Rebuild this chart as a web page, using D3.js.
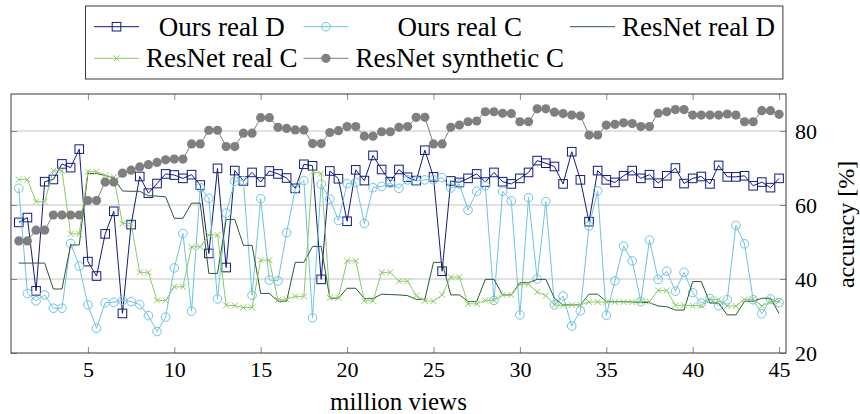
<!DOCTYPE html>
<html>
<head>
<meta charset="utf-8">
<script src="https://cdn.jsdelivr.net/npm/d3@7"></script>
<style>
body { margin: 0; background: #fff; }
</style>
</head>
<body>
<svg id="chart" width="860" height="414" font-family="'Liberation Serif', 'Times New Roman', Times, 'DejaVu Serif', 'Noto Serif', serif"></svg>
<script>
const FONT = "'Liberation Serif', 'Times New Roman', Times, 'DejaVu Serif', 'Noto Serif', serif";

// x positions (million views)
const MILLION_VIEWS = [1, 1.5, 2, 2.5, 3, 3.5, 4, 4.5, 5, 5.5, 6, 6.5, 7, 7.5, 8, 8.5, 9, 9.5, 10, 10.5,
    11, 11.5, 12, 12.5, 13, 13.5, 14, 14.5, 15, 15.5, 16, 16.5, 17, 17.5, 18, 18.5, 19, 19.5, 20, 20.5,
    21, 21.5, 22, 22.5, 23, 23.5, 24, 24.5, 25, 25.5, 26, 26.5, 27, 27.5, 28, 28.5, 29, 29.5, 30, 30.5,
    31, 31.5, 32, 32.5, 33, 33.5, 34, 34.5, 35, 35.5, 36, 36.5, 37, 37.5, 38, 38.5, 39, 39.5, 40, 40.5,
    41, 41.5, 42, 42.5, 43, 43.5, 44, 44.5, 45];

// accuracy [%] per series
const OURS_REAL_D = [55.3, 56.6, 36.8, 66.3, 66.9, 71.1, 70.1, 75.1, 44.7, 40.8,
    52.2, 58.3, 30.7, 54.7, 67.7, 63.2, 65.8, 68.4, 68.1, 67.2,
    68.2, 65.4, 46.9, 69.9, 43.1, 69.3, 66.5, 68.8, 66.2, 69.2,
    68.4, 67.3, 64.5, 71.0, 70.6, 39.9, 69.2, 67.1, 55.6, 69.5,
    66.6, 73.4, 69.6, 66.3, 69.6, 67.5, 66.6, 74.8, 67.6, 42.1,
    66.5, 66.1, 67.2, 68.4, 66.2, 68.8, 66.3, 65.7, 67.2, 68.8,
    72.0, 71.3, 70.4, 65.7, 74.4, 66.8, 55.5, 69.3, 66.8, 66.1,
    67.9, 69.3, 67.2, 68.2, 65.9, 67.9, 70.0, 65.8, 67.2, 67.7,
    65.7, 70.7, 67.6, 67.6, 67.9, 65.2, 66.2, 64.7, 67.2];

const OURS_REAL_C = [64.5, 36.1, 34.1, 35.7, 32.1, 32.1, 49.6, 43.5, 33.0, 26.7,
    33.6, 33.7, 34.2, 33.9, 33.1, 30.1, 25.8, 29.7, 43.0, 52.3,
    31.3, 64.7, 61.8, 34.6, 57.8, 66.4, 66.6, 35.6, 61.7, 39.7,
    39.5, 52.5, 64.3, 66.6, 29.5, 65.6, 61.6, 55.8, 65.8, 66.1,
    55.0, 64.7, 65.0, 65.9, 64.5, 66.8, 66.5, 66.8, 66.8, 67.4,
    64.6, 65.6, 58.6, 63.7, 65.2, 34.2, 63.7, 61.1, 30.3, 62.0,
    40.0, 60.9, 33.0, 35.4, 27.3, 31.4, 54.3, 63.8, 30.2, 39.5,
    48.9, 44.9, 33.9, 50.5, 39.9, 42.1, 36.7, 41.8, 36.3, 33.5,
    34.7, 32.8, 34.4, 54.5, 49.5, 34.4, 30.6, 34.6, 33.6];

const RESNET_REAL_D = [44.3, 44.3, 44.3, 44.3, 37.3, 37.3, 49.2, 49.2, 68.5, 68.5,
    68.0, 67.3, 63.8, 63.7, 63.7, 62.5, 62.4, 62.2, 56.4, 56.4,
    60.5, 60.5, 41.5, 41.5, 56.1, 56.1, 49.1, 49.1, 36.1, 36.1,
    34.0, 34.0, 44.5, 44.5, 48.8, 48.8, 34.8, 34.8, 37.5, 37.5,
    34.7, 34.7, 35.9, 35.8, 35.7, 35.5, 34.5, 34.5, 44.5, 44.5,
    35.7, 35.7, 33.9, 33.9, 39.9, 39.9, 35.7, 35.7, 39.0, 39.0,
    39.9, 39.9, 34.8, 33.0, 33.0, 33.0, 35.9, 35.9, 33.9, 33.9,
    33.9, 33.8, 33.7, 33.6, 32.7, 32.5, 31.6, 31.6, 39.3, 39.3,
    33.5, 33.5, 30.3, 30.3, 34.0, 34.0, 34.8, 34.8, 30.7];

const RESNET_REAL_C = [66.9, 66.9, 60.9, 60.9, 69.3, 69.3, 52.2, 52.2, 69.0, 69.0,
    68.0, 67.5, 55.0, 55.0, 41.8, 41.8, 34.2, 34.2, 37.9, 37.9,
    48.7, 48.7, 51.9, 51.9, 32.9, 32.8, 32.3, 32.3, 45.1, 45.1,
    34.3, 34.5, 35.3, 35.3, 69.0, 68.5, 34.9, 34.9, 44.9, 44.9,
    34.1, 34.1, 41.8, 41.8, 39.4, 39.4, 35.5, 34.1, 34.0, 35.7,
    40.5, 40.5, 33.3, 33.3, 34.2, 34.2, 35.7, 35.7, 38.6, 38.6,
    36.5, 35.5, 33.0, 32.8, 33.0, 33.0, 33.8, 33.8, 33.8, 33.8,
    33.8, 33.8, 33.9, 33.9, 36.9, 36.9, 32.9, 32.9, 32.8, 32.8,
    34.5, 34.5, 32.7, 32.7, 34.5, 34.5, 32.7, 33.8, 34.0];

const RESNET_SYNTHETIC_C = [50.3, 50.3, 53.2, 53.2, 57.3, 57.3, 57.3, 57.3, 61.2, 61.2,
    66.2, 66.2, 68.6, 69.4, 70.3, 70.9, 71.5, 72.2, 72.4, 72.4,
    76.5, 76.5, 80.2, 80.2, 75.8, 75.8, 79.4, 79.4, 83.6, 83.6,
    81.0, 80.7, 80.3, 80.3, 76.6, 76.6, 79.6, 80.1, 81.2, 81.2,
    78.6, 78.6, 79.8, 79.8, 81.0, 81.2, 83.7, 83.7, 76.5, 76.5,
    81.0, 81.6, 82.5, 82.7, 85.2, 85.2, 84.8, 84.7, 82.5, 82.5,
    86.0, 86.0, 85.1, 84.7, 84.3, 84.1, 78.9, 78.9, 81.6, 81.8,
    82.2, 82.0, 81.2, 81.2, 84.8, 85.2, 85.8, 85.8, 84.3, 84.3,
    84.3, 84.3, 84.6, 84.3, 82.5, 82.5, 85.5, 85.5, 84.5];

const X_TICKS = [5, 10, 15, 20, 25, 30, 35, 40, 45];
const Y_TICKS = [20, 40, 60, 80];
const Y_GRID = [40, 60, 80];

const SERIES = [
    { name: "Ours real D", values: OURS_REAL_D, color: "#111c7c", mark: "square" },
    { name: "Ours real C", values: OURS_REAL_C, color: "#6fc3e3", mark: "circle" },
    { name: "ResNet real D", values: RESNET_REAL_D, color: "#2f5a2f", mark: "none" },
    { name: "ResNet real C", values: RESNET_REAL_C, color: "#8ccb6a", mark: "cross" },
    { name: "ResNet synthetic C", values: RESNET_SYNTHETIC_C, color: "#7f7f7f", mark: "dot" }
];
const LEGEND_ROWS = [[0, 1, 2], [3, 4]];

const PLOT_LEFT = 11, PLOT_RIGHT = 786, PLOT_TOP = 94, PLOT_BOTTOM = 353;

let svg = d3.select("#chart");
let x = d3.scaleLinear().domain([0.55, 45.4]).range([PLOT_LEFT, PLOT_RIGHT]);
let y = d3.scaleLinear().domain([20, 90]).range([PLOT_BOTTOM, PLOT_TOP]);

svg.append("clipPath").attr("id", "plotClip")
    .append("rect")
    .attr("x", PLOT_LEFT).attr("y", PLOT_TOP)
    .attr("width", PLOT_RIGHT - PLOT_LEFT).attr("height", PLOT_BOTTOM - PLOT_TOP);

// grid
svg.append("g").selectAll("line").data(Y_GRID).join("line")
    .attr("x1", PLOT_LEFT).attr("x2", PLOT_RIGHT)
    .attr("y1", d => y(d)).attr("y2", d => y(d))
    .attr("stroke", "#c4c4c4").attr("stroke-width", 1);

// axes: ticks pointing inward
const styleAxis = (g) => {
    g.attr("font-family", FONT).attr("font-size", 22);
    g.select(".domain").remove();
    g.selectAll(".tick line").attr("stroke", "#8a8a8a").attr("stroke-width", 1);
    g.selectAll(".tick text").attr("fill", "#000");
};

svg.append("g").attr("transform", `translate(0,${PLOT_BOTTOM})`)
    .call(d3.axisBottom(x).tickValues(X_TICKS).tickSizeInner(-6).tickSizeOuter(0).tickPadding(8))
    .call(styleAxis);
svg.append("g").attr("transform", `translate(0,${PLOT_TOP})`)
    .call(d3.axisTop(x).tickValues(X_TICKS).tickSizeInner(-6).tickSizeOuter(0).tickFormat(""))
    .call(styleAxis);
svg.append("g").attr("transform", `translate(${PLOT_RIGHT},0)`)
    .call(d3.axisRight(y).tickValues(Y_TICKS).tickSizeInner(-6).tickSizeOuter(0).tickPadding(9))
    .call(styleAxis);
svg.append("g").attr("transform", `translate(${PLOT_LEFT},0)`)
    .call(d3.axisLeft(y).tickValues(Y_TICKS).tickSizeInner(-6).tickSizeOuter(0).tickFormat(""))
    .call(styleAxis);

// markers
const drawMark = (g, mark, color, cx, cy) => {
    if (mark === "square") {
        g.append("rect").attr("x", cx - 4.3).attr("y", cy - 4.3).attr("width", 8.6).attr("height", 8.6)
            .attr("fill", "none").attr("stroke", color).attr("stroke-width", 1);
    } else if (mark === "circle") {
        g.append("circle").attr("cx", cx).attr("cy", cy).attr("r", 4.3)
            .attr("fill", "none").attr("stroke", color).attr("stroke-width", 1);
    } else if (mark === "cross") {
        g.append("path").attr("d", `M${cx - 3},${cy - 3}L${cx + 3},${cy + 3}M${cx - 3},${cy + 3}L${cx + 3},${cy - 3}`)
            .attr("fill", "none").attr("stroke", color).attr("stroke-width", 1);
    } else if (mark === "dot") {
        g.append("circle").attr("cx", cx).attr("cy", cy).attr("r", 4.6).attr("fill", color);
    }
};

// series
let line = d3.line().x((d, i) => x(MILLION_VIEWS[i])).y(d => y(d));
SERIES.forEach((s) => {
    let g = svg.append("g");
    g.append("path").datum(s.values)
        .attr("d", line)
        .attr("clip-path", "url(#plotClip)")
        .attr("fill", "none").attr("stroke", s.color).attr("stroke-width", 1);
    s.values.forEach((v, i) => drawMark(g, s.mark, s.color, x(MILLION_VIEWS[i]), y(v)));
});

// frame
svg.append("rect")
    .attr("x", PLOT_LEFT).attr("y", PLOT_TOP)
    .attr("width", PLOT_RIGHT - PLOT_LEFT).attr("height", PLOT_BOTTOM - PLOT_TOP)
    .attr("fill", "none").attr("stroke", "#3a3a3a").attr("stroke-width", 1);

// axis labels
svg.append("text")
    .attr("x", (PLOT_LEFT + PLOT_RIGHT) / 2).attr("y", 410)
    .attr("text-anchor", "middle").attr("font-family", FONT).attr("font-size", 25)
    .text("million views");
svg.append("text")
    .attr("transform", `translate(854,${(PLOT_TOP + PLOT_BOTTOM) / 2 + 1}) rotate(-90)`)
    .attr("text-anchor", "middle").attr("font-family", FONT).attr("font-size", 24)
    .text("accuracy [%]");

// legend
const LEGEND_LEFT = 85.5, LEGEND_TOP = 6, LEGEND_BOTTOM = 79;
const LEGEND_ROW_Y = [26.7, 58.3];
const LEGEND_FONT_SIZE = 27;
const SYMBOL_W = 45, GAP_AFTER_SYMBOL = 7, GAP_AFTER_TEXT = 6;

let legend = svg.append("g");
let box = legend.append("rect");
let measure = legend.append("text").attr("font-family", FONT).attr("font-size", LEGEND_FONT_SIZE);
let colWidths = [];
LEGEND_ROWS.forEach((row) => {
    row.forEach((si, c) => {
        measure.text(SERIES[si].name);
        let w = measure.node().getComputedTextLength();
        colWidths[c] = Math.max(colWidths[c] || 0, w);
    });
});
measure.remove();

let colStart = [];
let cursor = LEGEND_LEFT + 8.5;
colWidths.forEach((w, c) => {
    colStart[c] = cursor;
    cursor += SYMBOL_W + GAP_AFTER_SYMBOL + w + GAP_AFTER_TEXT;
});
let legendRight = cursor + 2;

LEGEND_ROWS.forEach((row, r) => {
    let ly = LEGEND_ROW_Y[r];
    row.forEach((si, c) => {
        let s = SERIES[si];
        let sx = colStart[c];
        legend.append("line")
            .attr("x1", sx).attr("x2", sx + SYMBOL_W).attr("y1", ly).attr("y2", ly)
            .attr("stroke", s.color).attr("stroke-width", 1);
        drawMark(legend, s.mark, s.color, sx + SYMBOL_W / 2, ly);
        legend.append("text")
            .attr("x", sx + SYMBOL_W + GAP_AFTER_SYMBOL + colWidths[c] / 2)
            .attr("y", ly + 9)
            .attr("text-anchor", "middle").attr("font-family", FONT).attr("font-size", LEGEND_FONT_SIZE)
            .text(s.name);
    });
});

box.attr("x", LEGEND_LEFT).attr("y", LEGEND_TOP)
    .attr("width", legendRight - LEGEND_LEFT).attr("height", LEGEND_BOTTOM - LEGEND_TOP)
    .attr("fill", "#fff").attr("stroke", "#3a3a3a").attr("stroke-width", 1);
</script>
</body>
</html>
